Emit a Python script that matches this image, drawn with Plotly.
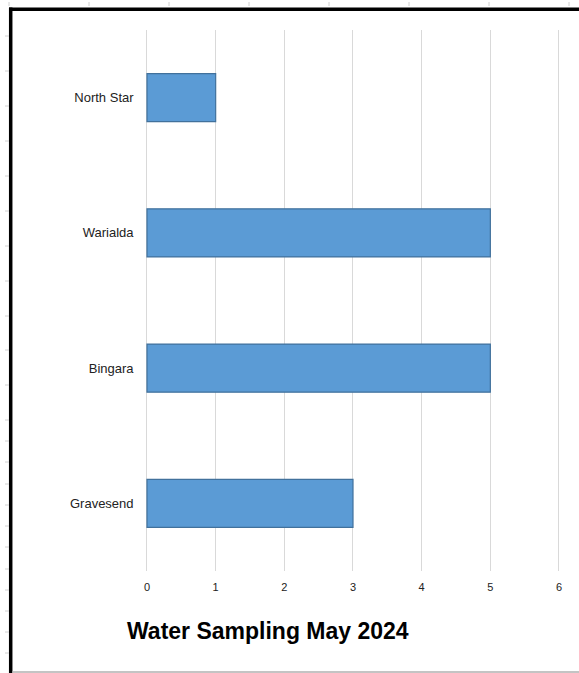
import plotly.graph_objects as go

W, H = 579, 673

sites = ["North Star", "Warialda", "Bingara", "Gravesend"]
samples = [1, 5, 5, 3]
x_ticks = [0, 1, 2, 3, 4, 5, 6]
title_text = "Water Sampling May 2024"

def px(x):
    return x / W

def py(y):
    return 1 - y / H

fig = go.Figure()
fig.add_trace(go.Bar(
    x=samples, y=sites, orientation="h",
    marker=dict(color="#5b9bd5", line=dict(color="#41719c", width=1.2)),
    width=0.355,
    hoverinfo="x+y",
))

shapes = []
# black frame (top and left)
shapes.append(dict(type="line", xref="paper", yref="paper",
                   x0=px(9), x1=px(W + 2), y0=py(9.3), y1=py(9.3),
                   line=dict(color="black", width=3.5)))
shapes.append(dict(type="line", xref="paper", yref="paper",
                   x0=px(10.7), x1=px(10.7), y0=py(7.5), y1=py(H + 2),
                   line=dict(color="black", width=3.5)))
# bottom grey line
shapes.append(dict(type="line", xref="paper", yref="paper",
                   x0=px(12), x1=px(W + 2), y0=py(672), y1=py(672),
                   line=dict(color="#b0b0b0", width=1.5)))
# sheet tick marks on the left edge
left_ticks = [36, 71, 106, 141, 176, 211, 246, 281, 316, 350, 385, 420,
              441, 462, 484, 505, 526, 547, 569, 590, 611, 632, 653]
for t in left_ticks:
    shapes.append(dict(type="line", xref="paper", yref="paper",
                       x0=px(5), x1=px(9), y0=py(t), y1=py(t),
                       line=dict(color="#d0d0d0", width=1)))
for t in [9, 89, 169, 249, 329, 409, 489, 569]:
    shapes.append(dict(type="line", xref="paper", yref="paper",
                       x0=px(t), x1=px(t), y0=py(2), y1=py(6),
                       line=dict(color="#d0d0d0", width=1)))

pad = 0.05
x0_px, x6_px = 147, 559
unit = (x6_px - x0_px) / 6.0

fig.update_layout(
    width=W, height=H,
    margin=dict(l=0, r=0, t=0, b=0),
    paper_bgcolor="white", plot_bgcolor="white",
    showlegend=False,
    shapes=shapes,
    xaxis=dict(
        domain=[px(x0_px - pad * unit), px(x6_px + pad * unit)],
        range=[-pad, 6 + pad], tickvals=x_ticks,
        showgrid=True, gridcolor="#d9d9d9", gridwidth=1,
        zeroline=True, zerolinecolor="#d9d9d9", zerolinewidth=1,
        showline=False,
        ticks="", ticklabelstandoff=8,
        tickfont=dict(family="Liberation Sans", size=11, color="#222222"),
        fixedrange=True,
    ),
    yaxis=dict(
        domain=[py(571), py(30)],
        categoryorder="array", categoryarray=sites,
        autorange="reversed",
        showgrid=False, zeroline=False, showline=False,
        ticks="", ticklabelstandoff=9,
        tickfont=dict(family="Liberation Sans", size=13, color="#222222"),
        fixedrange=True,
    ),
    annotations=[dict(
        text="<b>" + title_text + "</b>", xref="paper", yref="paper",
        x=px(125), y=py(631), xanchor="left", yanchor="middle",
        showarrow=False,
        font=dict(family="Liberation Sans", size=23, color="black"),
    )],
)

fig.write_html("out.html")
